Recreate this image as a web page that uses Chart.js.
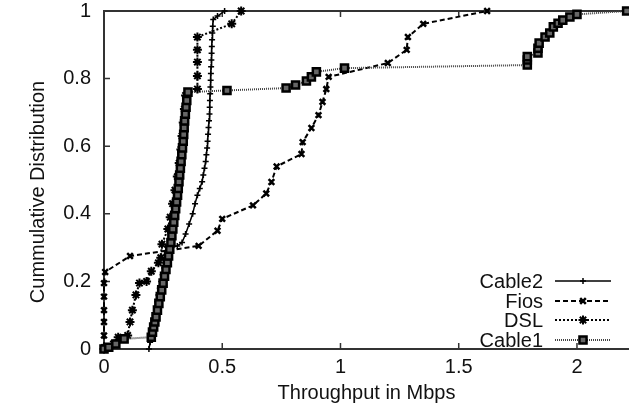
<!DOCTYPE html>
<html><head><meta charset="utf-8">
<script src="https://cdn.jsdelivr.net/npm/chart.js@4/dist/chart.umd.min.js"></script>
<style>html,body{margin:0;padding:0;background:#fff;overflow:hidden}</style>
</head><body>
<canvas id="c" width="629" height="408"></canvas>
<script>
const seriesNames = ['Cable2', 'Fios', 'DSL', 'Cable1'];
const xTitle = 'Throughput in Mbps';
const yTitle = 'Cummulative Distribution';
const xTicks = [0, 0.5, 1, 1.5, 2];
const yTicks = [0, 0.2, 0.4, 0.6, 0.8, 1];

const cable2X = [0.19,0.195,0.2,0.205,0.21,0.215,0.22,0.225,0.23,0.236,0.242,0.248,0.255,0.262,0.27,0.285,0.31,0.33,0.345,0.36,0.375,0.385,0.395,0.405,0.415,0.42,0.425,0.43,0.433,0.436,0.438,0.44,0.442,0.444,0.446,0.447,0.448,0.449,0.45,0.451,0.452,0.453,0.454,0.455,0.456,0.457,0.458,0.46,0.462,0.48,0.51];
const cable2Y = [0,0.02,0.04,0.06,0.08,0.1,0.12,0.14,0.16,0.18,0.2,0.22,0.24,0.26,0.28,0.3,0.305,0.315,0.34,0.37,0.4,0.43,0.455,0.475,0.495,0.515,0.535,0.555,0.575,0.595,0.615,0.635,0.655,0.675,0.695,0.715,0.735,0.755,0.775,0.795,0.815,0.835,0.855,0.875,0.895,0.915,0.935,0.955,0.975,0.985,1];

const fiosX = [0,0,0,0,0,0,0.005,0.11,0.40,0.48,0.5,0.63,0.686,0.708,0.73,0.835,0.84,0.877,0.907,0.924,0.94,0.95,1.2,1.28,1.285,1.35,1.62];
const fiosY = [0.005,0.04,0.08,0.115,0.155,0.195,0.228,0.275,0.305,0.35,0.385,0.425,0.46,0.494,0.54,0.577,0.612,0.654,0.692,0.731,0.769,0.805,0.846,0.885,0.923,0.962,1];

const dslX = [0,0.04,0.06,0.1,0.11,0.12,0.135,0.15,0.18,0.2,0.23,0.24,0.245,0.27,0.28,0.29,0.3,0.31,0.318,0.325,0.33,0.335,0.34,0.345,0.395,0.395,0.395,0.395,0.395,0.54,0.58];
const dslY = [0,0.015,0.035,0.04,0.08,0.115,0.16,0.195,0.2,0.23,0.255,0.27,0.31,0.355,0.39,0.43,0.47,0.51,0.55,0.59,0.63,0.67,0.71,0.75,0.769,0.808,0.849,0.885,0.923,0.962,1];

const cable1X = [0,0.02,0.05,0.085,0.2,0.205,0.21,0.215,0.22,0.226,0.232,0.238,0.244,0.25,0.256,0.262,0.268,0.273,0.278,0.283,0.287,0.291,0.295,0.299,0.303,0.307,0.311,0.314,0.317,0.32,0.323,0.326,0.329,0.332,0.335,0.337,0.339,0.341,0.344,0.347,0.35,0.355,0.52,0.77,0.81,0.856,0.877,0.898,1.017,1.79,1.79,1.79,1.835,1.835,1.84,1.865,1.885,1.9,1.92,1.94,1.97,2.0,2.21];
const cable1Y = [0,0.005,0.015,0.03,0.035,0.05,0.065,0.08,0.095,0.115,0.135,0.155,0.175,0.195,0.215,0.235,0.255,0.275,0.295,0.315,0.335,0.355,0.375,0.395,0.415,0.435,0.455,0.475,0.495,0.515,0.535,0.555,0.575,0.595,0.615,0.635,0.655,0.675,0.695,0.715,0.735,0.76,0.765,0.772,0.781,0.793,0.805,0.82,0.831,0.84,0.855,0.865,0.876,0.89,0.905,0.923,0.935,0.953,0.964,0.973,0.982,0.99,1];

const pts = (xs, ys) => xs.map((x, i) => ({x: x, y: ys[i]}));
const FONT = "'Liberation Sans', Arial, Helvetica, sans-serif";
const TXT = '#111';

const styles = [
  {line:'#000', dash:[], lw:1.5, ps:'cross', r:3, pbw:1.5, bg:'#000'},
  {line:'#000', dash:[5,3], lw:2, ps:'crossRot', r:4, pbw:2.5, bg:'#000'},
  {line:'#000', dash:[2,2], lw:2, ps:'star', r:4.5, pbw:2, bg:'#000'},
  {line:'#444', dash:[1,1], lw:2, ps:'rect', r:5, pbw:2.5, bg:'#666'}
];
const seriesData = [pts(cable2X,cable2Y), pts(fiosX,fiosY), pts(dslX,dslY), pts(cable1X,cable1Y)];
const drawOrder = [3,2,1,0];

const datasets = seriesNames.map((name, i) => ({
  label: name,
  data: seriesData[i],
  showLine: true,
  borderColor: styles[i].line,
  borderWidth: styles[i].lw,
  borderDash: styles[i].dash,
  pointStyle: styles[i].ps,
  pointRadius: styles[i].r,
  pointBorderWidth: styles[i].pbw,
  pointBorderColor: '#000',
  pointBackgroundColor: styles[i].bg,
  backgroundColor: styles[i].bg,
  tension: 0,
  clip: false,
  order: drawOrder[i]
}));

function drawMarker(ctx, st, x, y) {
  if (Chart.helpers && Chart.helpers.drawPoint) {
    ctx.save();
    ctx.strokeStyle = '#000'; ctx.fillStyle = st.bg; ctx.lineWidth = st.pbw; ctx.setLineDash([]);
    Chart.helpers.drawPoint(ctx, {pointStyle: st.ps, radius: st.r, rotation: 0, borderWidth: st.pbw}, x, y);
    ctx.restore();
  }
}

const framePlugin = {
  id: 'frame',
  beforeDatasetsDraw(chart) {
    const {ctx, chartArea: a, scales} = chart;
    ctx.save();
    ctx.strokeStyle = '#333'; ctx.lineWidth = 2; ctx.setLineDash([]);
    ctx.beginPath();
    ctx.moveTo(a.right + 2, a.top); ctx.lineTo(a.left, a.top); ctx.lineTo(a.left, a.bottom); ctx.lineTo(a.right + 2, a.bottom);
    ctx.stroke();
    ctx.lineWidth = 1.5;
    ctx.beginPath();
    xTicks.forEach(v => { const px = scales.x.getPixelForValue(v);
      ctx.moveTo(px, a.bottom); ctx.lineTo(px, a.bottom - 6);
      ctx.moveTo(px, a.top); ctx.lineTo(px, a.top + 6); });
    yTicks.forEach(v => { const py = scales.y.getPixelForValue(v);
      ctx.moveTo(a.left, py); ctx.lineTo(a.left + 6, py); });
    ctx.stroke();
    ctx.fillStyle = TXT; ctx.font = '20px ' + FONT;
    ctx.translate(38, 192); ctx.rotate(-Math.PI / 2);
    ctx.textAlign = 'center'; ctx.textBaseline = 'middle';
    ctx.fillText(yTitle, 0, 0);
    ctx.restore();
  },
  afterDatasetsDraw(chart) {
    const {ctx} = chart;
    const rows = [281, 301, 320, 340];
    ctx.save();
    seriesNames.forEach((name, i) => {
      const st = styles[i]; const y = rows[i];
      ctx.fillStyle = TXT; ctx.font = '20px ' + FONT;
      ctx.textAlign = 'right'; ctx.textBaseline = 'middle';
      ctx.fillText(name, 543, y + 1);
      ctx.strokeStyle = st.line; ctx.lineWidth = st.lw; ctx.setLineDash(st.dash);
      ctx.beginPath(); ctx.moveTo(555, y); ctx.lineTo(611, y); ctx.stroke();
      ctx.setLineDash([]);
      drawMarker(ctx, st, 583, y);
    });
    ctx.restore();
  }
};

new Chart(document.getElementById('c'), {
  type: 'scatter',
  data: {datasets},
  plugins: [framePlugin],
  options: {
    responsive: false,
    animation: false,
    devicePixelRatio: 1,
    layout: {autoPadding: false, padding: {top: 11, right: 0, bottom: 0, left: 0}},
    plugins: {legend: {display: false}, tooltip: {enabled: false}},
    scales: {
      x: {
        type: 'linear', min: 0, max: 2.22,
        grid: {display: false, drawTicks: false},
        border: {display: false},
        afterBuildTicks: s => { s.ticks = xTicks.map(v => ({value: v})); },
        afterFit: s => { s.height = 59; s.paddingRight = 0; s.paddingLeft = 0; },
        ticks: {color: TXT, font: {size: 20, family: FONT}, padding: 6, maxRotation: 0, autoSkip: false,
                callback: v => String(v)},
        title: {display: true, text: xTitle, color: TXT, font: {size: 20, family: FONT}, padding: {top: 0, bottom: 3}}
      },
      y: {
        type: 'linear', min: 0, max: 1,
        grid: {display: false, drawTicks: false},
        border: {display: false},
        afterBuildTicks: s => { s.ticks = yTicks.map(v => ({value: v})); },
        afterFit: s => { s.width = 104; s.paddingTop = 0; s.paddingBottom = 0; },
        ticks: {color: TXT, font: {size: 20, family: FONT}, padding: 13, autoSkip: false,
                callback: v => String(v)}
      }
    }
  }
});
</script>
</body></html>
